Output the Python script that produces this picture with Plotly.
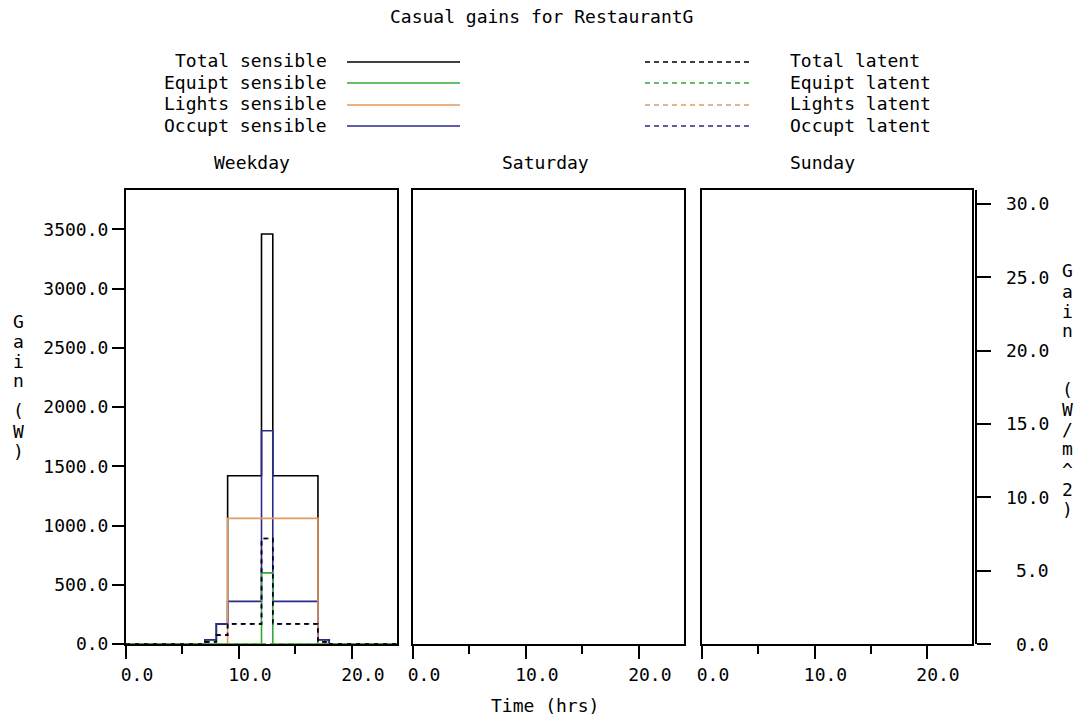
import plotly.graph_objects as go

# ---------------- data (Weekday casual gains, W) ----------------
period_bounds = [0, 7, 8, 9, 12, 13, 17, 18, 24]          # hours
total_sensible = [0, 36, 170, 1420, 3460, 1420, 36, 0]
equipt_sensible = [0, 0, 0, 0, 600, 0, 0, 0]
lights_sensible = [0, 0, 0, 1060, 1060, 1060, 0, 0]
occupt_sensible = [0, 36, 170, 360, 1800, 360, 36, 0]
total_latent = [0, 18, 75, 170, 890, 170, 18, 0]
equipt_latent = [0, 0, 0, 0, 0, 0, 0, 0]
lights_latent = [0, 0, 0, 0, 0, 0, 0, 0]
occupt_latent = [0, 18, 75, 170, 890, 170, 18, 0]

floor_area = 123.8          # m^2, links W axis to W/m^2 axis
y_max = 3832.0
left_ticks = [0, 500, 1000, 1500, 2000, 2500, 3000, 3500]
right_ticks = [0, 5, 10, 15, 20, 25, 30]
x_ticks = [0, 10, 20]
x_minor = [5, 15]
panel_names = ["Weekday", "Saturday", "Sunday"]

BLACK = "#000000"
GREEN = "#33a833"
ORANGE = "#e39a5f"
BLUE = "#2a2a8c"

FONT = "DejaVu Sans Mono"
FS = 18
W, H = 1080, 722


def px(x):
    return x / W


def py(y):
    return 1 - y / H


series = [
    ("Total sensible", total_sensible, BLACK, "solid"),
    ("Occupt sensible", occupt_sensible, BLUE, "solid"),
    ("Lights sensible", lights_sensible, ORANGE, "solid"),
    ("Equipt sensible", equipt_sensible, GREEN, "solid"),
    ("Occupt latent", occupt_latent, BLUE, "5px,4px"),
    ("Lights latent", lights_latent, ORANGE, "5px,4px"),
    ("Equipt latent", equipt_latent, GREEN, "5px,4px"),
    ("Total latent", total_latent, BLACK, "4px,5px"),
]

fig = go.Figure()
for name, vals, col, dash in series:
    fig.add_trace(go.Scatter(
        x=period_bounds, y=vals + [vals[-1]], mode="lines", name=name,
        line=dict(color=col, width=1.6, dash=dash, shape="hv"),
        xaxis="x", yaxis="y", showlegend=False, hoverinfo="skip"))
# empty traces so the Saturday / Sunday panels and the W/m^2 axis are drawn
for xa, ya in [("x2", "y2"), ("x3", "y3"), ("x3", "y4")]:
    fig.add_trace(go.Scatter(x=[], y=[], xaxis=xa, yaxis=ya, showlegend=False))

x_domains = [(126, 397), (413, 684), (702, 972)]
y_dom = [py(644), py(190)]

common_x = dict(range=[0, 24], showgrid=False, zeroline=False, showline=True,
                linecolor=BLACK, linewidth=2, mirror=True, ticks="outside",
                ticklen=13, tickwidth=2, tickcolor=BLACK, tickvals=x_ticks,
                ticktext=[f"{v:.1f}" for v in x_ticks], ticklabelshift=11,
                minor=dict(tickvals=x_minor, ticks="outside", ticklen=8,
                           tickwidth=2, tickcolor=BLACK),
                tickfont=dict(family=FONT, size=FS, color=BLACK), fixedrange=True,
                layer="above traces")

layout = dict(autosize=True, margin=dict(l=0, r=0, t=0, b=0, autoexpand=False),
              paper_bgcolor="white", plot_bgcolor="white", showlegend=False)
for i, (a, b) in enumerate(x_domains):
    xs = "" if i == 0 else str(i + 1)
    layout["xaxis" + xs] = dict(common_x, domain=[px(a), px(b)], anchor="y" + xs)
    ya = dict(range=[0, y_max], domain=y_dom, anchor="x" + xs, showgrid=False,
              zeroline=False, showline=True, linecolor=BLACK, linewidth=2,
              mirror=True, fixedrange=True)
    if i == 0:
        ya.update(ticks="outside", ticklen=12, tickwidth=2, tickcolor=BLACK,
                  tickvals=left_ticks, ticktext=[f"{v:.1f}" for v in left_ticks],
                  tickfont=dict(family=FONT, size=FS, color=BLACK))
    else:
        ya.update(showticklabels=False, ticks="")
    layout["yaxis" + xs] = ya

# W/m^2 axis: line and ticks from the axis, labels placed on its scale below
layout["yaxis4"] = dict(range=[0, y_max / floor_area], overlaying="y3", side="right",
                        anchor="free", position=px(976), domain=y_dom,
                        showgrid=False, zeroline=False,
                        showline=True, linecolor=BLACK, linewidth=2, ticks="outside",
                        ticklen=14, tickwidth=2, tickcolor=BLACK, tickvals=right_ticks,
                        showticklabels=False, fixedrange=True)
fig.update_layout(**layout)

ann = []
shapes = []


def text(x, y, s, anchor="center"):
    ann.append(dict(x=px(x), y=py(y), xref="paper", yref="paper", text=s,
                    showarrow=False, xanchor=anchor, yanchor="middle",
                    font=dict(family=FONT, size=FS, color=BLACK)))


for v in right_ticks:
    ann.append(dict(x=px(1051), y=v, xref="paper", yref="y4", text=f"{v:.1f}",
                    showarrow=False, xanchor="right", yanchor="middle",
                    font=dict(family=FONT, size=FS, color=BLACK)))

text(541, 17, "Casual gains for RestaurantG")
for name, x in zip(panel_names, [252, 545, 822]):
    text(x, 163, name)
text(545, 705, "Time (hrs)")

# legend
rows_left = [("Total sensible", BLACK), ("Equipt sensible", GREEN),
             ("Lights sensible", ORANGE), ("Occupt sensible", BLUE)]
rows_right = [("Total latent", BLACK), ("Equipt latent", GREEN),
              ("Lights latent", ORANGE), ("Occupt latent", BLUE)]
row_y = [61, 82, 104, 125]
for (nm, col), y in zip(rows_left, row_y):
    text(329, y, nm, "right")
    shapes.append(dict(type="line", xref="paper", yref="paper", x0=px(347), x1=px(460),
                       y0=py(y + 1), y1=py(y + 1), line=dict(color=col, width=1.6)))
for (nm, col), y in zip(rows_right, row_y):
    text(788, y, nm, "left")
    shapes.append(dict(type="line", xref="paper", yref="paper", x0=px(645), x1=px(750),
                       y0=py(y + 1), y1=py(y + 1),
                       line=dict(color=col, width=1.6, dash="5px,4px")))

# vertical axis titles (one character per line)
left_title = "Gain (W)"
left_y = [321, 341, 361, 381, 396, 410, 431, 451]
for ch, y in zip(left_title, left_y):
    if ch != " ":
        text(18, y, ch)
right_title = "Gain (W/m^2)"
right_y = [270, 291, 311, 331, 360, 390, 409, 429, 449, 469, 489, 509]
for ch, y in zip(right_title, right_y):
    if ch != " ":
        text(1067, y, ch)

fig.update_layout(annotations=ann, shapes=shapes)
fig.write_html(
    "out.html",
    default_width="100vw",
    default_height="100vh",
    config={"displayModeBar": False, "staticPlot": True, "responsive": True},
    post_script=(
        "var gd=document.getElementById('{plot_id}');"
        "document.documentElement.style.margin='0';"
        "document.body.style.margin='0';"
        "document.documentElement.style.overflow='hidden';"
        "document.body.style.overflow='hidden';"
        "gd.style.position='fixed';gd.style.left='0px';gd.style.top='0px';"
        "gd.style.width='100vw';gd.style.height='100vh';"
        "Plotly.Plots.resize(gd);"))
